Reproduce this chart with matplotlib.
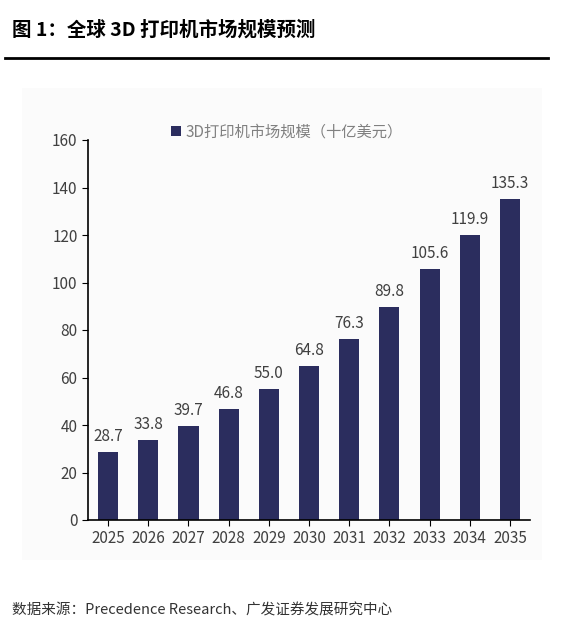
import matplotlib
matplotlib.use("Agg")
import matplotlib.pyplot as plt
from matplotlib.lines import Line2D

plt.rcParams["font.family"] = ["Noto Sans CJK SC", "DejaVu Sans"]

years = ["2025", "2026", "2027", "2028", "2029", "2030",
         "2031", "2032", "2033", "2034", "2035"]
market_size = [28.7, 33.8, 39.7, 46.8, 55.0, 64.8, 76.3, 89.8, 105.6, 119.9, 135.3]
y_ticks = [0, 20, 40, 60, 80, 100, 120, 140, 160]

BAR = "#2b2d5e"
TXT = "#404040"

fig = plt.figure(figsize=(5.66, 6.37), dpi=100)

# faint panel behind the chart
bg = fig.add_axes([22 / 566, 1 - 560 / 637, 520 / 566, 472 / 637], zorder=-1)
bg.set_facecolor("#fbfbfb")
bg.set_xticks([])
bg.set_yticks([])
for s in bg.spines.values():
    s.set_visible(False)

fig.text(12 / 566, 1 - 30 / 637, "图 1：全球 3D 打印机市场规模预测",
         fontsize=14, fontweight="bold", va="center", ha="left")
fig.add_artist(Line2D([5 / 566, 548 / 566], [1 - 58 / 637] * 2,
                      transform=fig.transFigure, color="black", lw=2))
fig.text(12 / 566, 1 - 610 / 637, "数据来源：Precedence Research、广发证券发展研究中心",
         fontsize=10.5, color="#333333", va="center", ha="left")

ax = fig.add_axes([88 / 566, 1 - 520 / 637, 442 / 566, 380 / 637])
ax.set_facecolor("none")
x = range(len(years))
ax.bar(x, market_size, width=0.5, color=BAR, label="3D打印机市场规模（十亿美元）")
for xi, v in zip(x, market_size):
    ax.text(xi, v + 3, f"{v:.1f}", ha="center", va="bottom", fontsize=11, color=TXT)

ax.set_xlim(-0.5, len(years) - 0.5)
ax.set_ylim(0, 160)
ax.set_yticks(y_ticks)
ax.set_xticks(list(x))
ax.set_xticklabels(years)
ax.tick_params(axis="both", labelsize=11, labelcolor=TXT, direction="out", length=4)
for s in ["top", "right"]:
    ax.spines[s].set_visible(False)
for s in ["left", "bottom"]:
    ax.spines[s].set_linewidth(1.2)

leg = ax.legend(loc="upper center", bbox_to_anchor=(0.45, 1.08), frameon=False,
                fontsize=11, handlelength=0.7, handleheight=0.7, handletextpad=0.3)
for t in leg.get_texts():
    t.set_color("#808080")

fig.savefig("out.png", dpi=100)
